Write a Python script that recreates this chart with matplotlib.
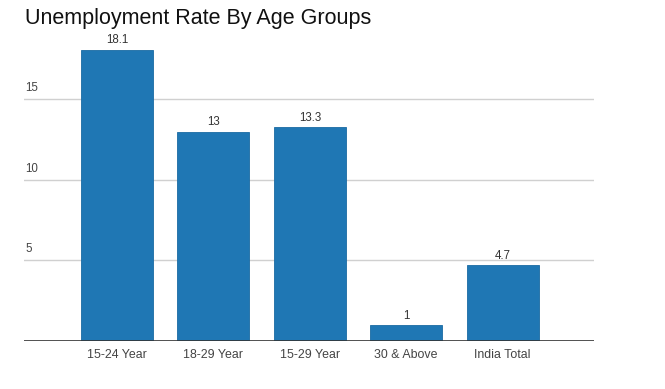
import matplotlib
matplotlib.use('Agg')
import matplotlib.pyplot as plt
import matplotlib.transforms as mtransforms
import numpy as np

plt.rcParams['font.family'] = ['Liberation Sans', 'DejaVu Sans']

# data
groups = ['15-24 Year', '18-29 Year', '15-29 Year', '30 & Above', 'India Total']
rates = [18.1, 13, 13.3, 1, 4.7]
rate_labels = ['18.1', '13', '13.3', '1', '4.7']
y_ticks = [5, 10, 15]

fig = plt.figure(figsize=(6.65, 3.89), dpi=100)
# axes box in pixels: x 24..594, y 341 (baseline) up to ~27
ax = fig.add_axes([24 / 665, (389 - 341) / 389, 570 / 665, 314 / 389])

x = np.arange(len(groups))
ax.bar(x, rates, width=0.747, color='#1f77b4', edgecolor='#1a6aa3', linewidth=0.6, zorder=3)

for xi, v, lab in zip(x, rates, rate_labels):
    ax.text(xi, v + 0.2, lab, ha='center', va='bottom', fontsize=8.3, color='#333333')

ax.set_xlim(-0.965, 4.948)
ax.set_ylim(0, 19.5)

for v in y_ticks:
    ax.axhline(v, color='#d0d0d0', linewidth=1, zorder=1)
ax.axhline(0, color='#333333', linewidth=1.2, zorder=4)

trans = mtransforms.blended_transform_factory(ax.transAxes, ax.transData)
for v in y_ticks:
    ax.text(0.002, v + 0.32, str(v), transform=trans, ha='left', va='bottom',
            fontsize=8.3, color='#444444')

ax.set_yticks([])
ax.set_xticks(x)
ax.set_xticklabels(groups, fontsize=8.9, color='#444444')
ax.tick_params(axis='x', length=0, pad=6)
for s in ax.spines.values():
    s.set_visible(False)

fig.text(25 / 665, 1 - 24 / 389, 'Unemployment Rate By Age Groups', ha='left', va='baseline',
         fontsize=15.5, color='#111111')

fig.savefig('out.png', dpi=100, facecolor='white')
